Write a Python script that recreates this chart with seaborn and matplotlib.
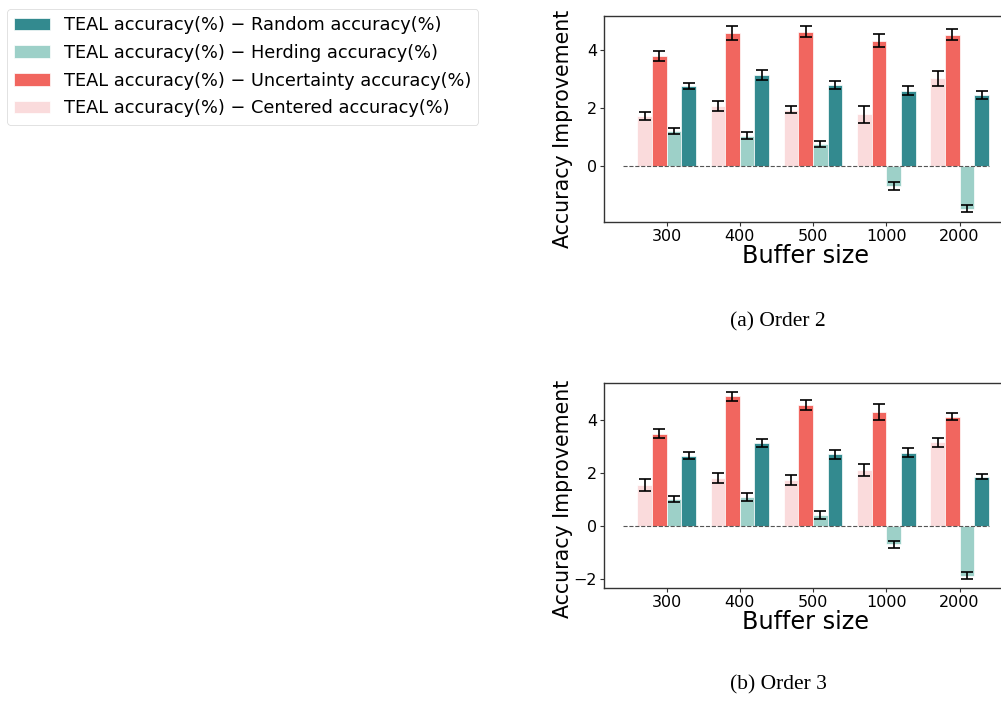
import matplotlib
matplotlib.use("Agg")
import matplotlib.pyplot as plt
import numpy as np
import pandas as pd
import seaborn as sns

# Buffer sizes on the x axis
buffers = ["300", "400", "500", "1000", "2000"]

# Method order inside each group (left to right)
methods = ["Centered", "Uncertainty", "Herding", "Random"]

# Order 2: mean improvement and error per method
order2_centered = [1.72, 2.07, 1.94, 1.78, 3.02]
order2_centered_err = [0.13, 0.18, 0.13, 0.30, 0.25]
order2_uncertainty = [3.80, 4.60, 4.63, 4.32, 4.53]
order2_uncertainty_err = [0.17, 0.24, 0.20, 0.23, 0.20]
order2_herding = [1.20, 1.05, 0.75, -0.70, -1.47]
order2_herding_err = [0.10, 0.13, 0.10, 0.14, 0.13]
order2_random = [2.75, 3.13, 2.80, 2.59, 2.44]
order2_random_err = [0.10, 0.17, 0.14, 0.15, 0.13]

# Order 3: mean improvement and error per method
order3_centered = [1.55, 1.81, 1.74, 2.12, 3.16]
order3_centered_err = [0.21, 0.19, 0.19, 0.23, 0.17]
order3_uncertainty = [3.48, 4.89, 4.57, 4.29, 4.13]
order3_uncertainty_err = [0.17, 0.18, 0.20, 0.30, 0.14]
order3_herding = [1.01, 1.08, 0.42, -0.69, -1.87]
order3_herding_err = [0.12, 0.15, 0.14, 0.14, 0.12]
order3_random = [2.66, 3.13, 2.70, 2.76, 1.86]
order3_random_err = [0.13, 0.14, 0.17, 0.17, 0.10]

colors = {
    "Random": "#338a8f",
    "Herding": "#9dd0c8",
    "Uncertainty": "#f1665f",
    "Centered": "#fadbdc",
}

legend_labels = {
    m: f"TEAL accuracy(%) \u2212 {m} accuracy(%)" for m in methods
}

sns.set_style("ticks")
plt.rcParams.update({
    "axes.edgecolor": "#333333",
    "axes.linewidth": 1.0,
    "xtick.major.size": 2.6,
    "ytick.major.size": 2.6,
    "xtick.major.width": 0.8,
    "ytick.major.width": 0.8,
    "xtick.color": "#333333",
    "ytick.color": "#333333",
    "xtick.labelcolor": "black",
    "ytick.labelcolor": "black",
    "text.color": "black",
    "axes.labelcolor": "black",
    "patch.edgecolor": "white",
    "patch.linewidth": 0.5,
})
plt.rcParams["font.family"] = ["DejaVu Sans"]

fig = plt.figure(figsize=(10.01, 7.02), dpi=100)

panels = [
    {
        "values": {"Centered": order2_centered, "Uncertainty": order2_uncertainty,
                   "Herding": order2_herding, "Random": order2_random},
        "errors": {"Centered": order2_centered_err, "Uncertainty": order2_uncertainty_err,
                   "Herding": order2_herding_err, "Random": order2_random_err},
        "rect": [0.6037, 0.6838, 0.4025, 0.2934],
        "ylim": (-1.93, 5.17),
        "yticks": [0, 2, 4],
        "label_y": 0.45,
        "caption": "(a) Order 2",
        "caption_y": 1 - 322 / 702,
    },
    {
        "values": {"Centered": order3_centered, "Uncertainty": order3_uncertainty,
                   "Herding": order3_herding, "Random": order3_random},
        "errors": {"Centered": order3_centered_err, "Uncertainty": order3_uncertainty_err,
                   "Herding": order3_herding_err, "Random": order3_random_err},
        "rect": [0.6037, 0.1620, 0.4025, 0.2929],
        "ylim": (-2.35, 5.41),
        "yticks": [-2, 0, 2, 4],
        "label_y": 0.435,
        "caption": "(b) Order 3",
        "caption_y": 1 - 685 / 702,
    },
]

legend_handles = None
for panel in panels:
    ax = fig.add_axes(panel["rect"])
    rows = []
    for m in methods:
        for b, v in zip(buffers, panel["values"][m]):
            rows.append({"buffer": b, "method": m, "value": v})
    df = pd.DataFrame(rows)

    sns.barplot(data=df, x="buffer", y="value", hue="method",
                order=buffers, hue_order=methods, palette=colors,
                saturation=1, errorbar=None, width=0.8, ax=ax, legend=False)

    # error bars centred on each bar
    for container, m in zip(ax.containers, methods):
        xs = [p.get_x() + p.get_width() / 2 for p in container]
        ax.errorbar(xs, panel["values"][m], yerr=panel["errors"][m],
                    fmt="none", ecolor="black", elinewidth=1.2,
                    capsize=4.3, capthick=1.2, zorder=5)

    ax.plot([-0.6, 4.4], [0, 0], linestyle="--", color="#555555",
            linewidth=0.8, zorder=4)

    ax.set_xlim(-0.85, 4.65)
    ax.set_ylim(*panel["ylim"])
    ax.set_yticks(panel["yticks"])
    ax.tick_params(axis="both", labelsize=11.5, pad=2.5)
    ax.set_xlabel("Buffer size", fontsize=17.3, labelpad=0)
    ax.set_ylabel("Accuracy Improvement", fontsize=14.8)
    ax.yaxis.set_label_coords(-0.078, panel["label_y"])
    for side in ["top", "right", "left", "bottom"]:
        ax.spines[side].set_visible(True)

    fig.text(778 / 1001, panel["caption_y"], panel["caption"],
             ha="center", va="center", fontsize=15.5,
             family=["Liberation Serif", "DejaVu Serif"])

    if legend_handles is None:
        legend_handles = {m: c for m, c in zip(methods, ax.containers)}

order_in_legend = ["Random", "Herding", "Uncertainty", "Centered"]
fig.legend([legend_handles[m] for m in order_in_legend],
           [legend_labels[m] for m in order_in_legend],
           loc="upper left", bbox_to_anchor=(7 / 1001, 1 - 9 / 702),
           borderaxespad=0, fontsize=12.8, frameon=True,
           handlelength=2.0, handleheight=0.7, labelspacing=0.55)

fig.savefig("out.png", dpi=100)
